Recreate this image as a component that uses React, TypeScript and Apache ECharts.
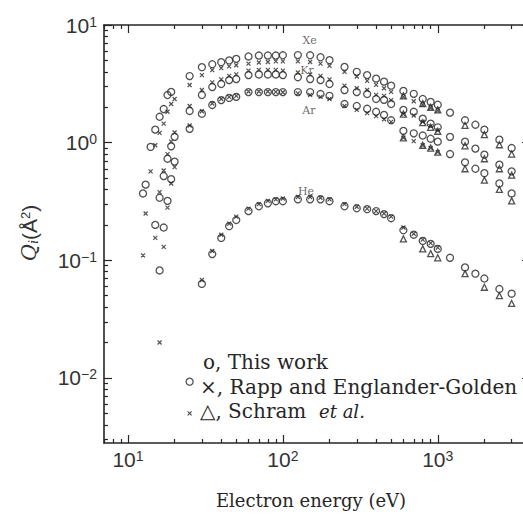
import React, { useEffect, useRef } from "react";
import * as echarts from "echarts";

// ---------- axes ----------
const X_MIN = 7;
const X_MAX = 4000;
const Y_MIN = 0.0028;
const Y_MAX = 10;
const X_MAJOR_EXP = [1, 2, 3];
const Y_MAJOR_EXP = [-2, -1, 0, 1];

// ---------- Xe ----------
const XE_THIS_E = [12.5, 13, 14, 15, 16, 17, 18, 19, 25, 30, 35, 40, 45, 50, 60, 70, 80, 90, 100, 125, 150, 175, 200, 250, 300, 350, 400, 450, 500, 600, 700, 800, 900, 1000, 1200, 1500, 1750, 2000, 2500, 3000];
const XE_THIS_Q = [0.37, 0.44, 0.92, 1.29, 1.66, 1.93, 2.54, 2.7, 3.68, 4.38, 4.64, 4.83, 5.0, 5.15, 5.4, 5.5, 5.5, 5.5, 5.53, 5.55, 5.53, 5.32, 5.02, 4.4, 4.0, 3.75, 3.5, 3.3, 3.05, 2.75, 2.6, 2.35, 2.22, 2.1, 1.8, 1.55, 1.42, 1.29, 1.06, 0.9];
const XE_RAPP_E = [12.5, 13, 14, 15, 16, 17, 18, 19, 20, 25, 30, 35, 40, 45, 50, 60, 70, 80, 90, 100, 125, 150, 175, 200, 250, 300, 350, 400, 450, 500, 600, 700, 800, 900, 1000];
const XE_RAPP_Q = [0.11, 0.25, 0.57, 0.95, 1.21, 1.45, 1.83, 2.13, 2.35, 3.09, 3.75, 4.13, 4.3, 4.45, 4.55, 4.7, 4.8, 4.85, 4.9, 4.9, 4.9, 4.85, 4.7, 4.5, 4.0, 3.65, 3.35, 3.1, 2.9, 2.7, 2.45, 2.25, 2.1, 1.98, 1.87];
const XE_SCHRAM_E = [600, 800, 900, 1000, 1500, 2000, 2500, 3000];
const XE_SCHRAM_Q = [2.5, 2.15, 2.0, 1.9, 1.4, 1.17, 0.96, 0.8];

// ---------- Kr ----------
const KR_THIS_E = [15, 16, 17, 18, 19, 20, 25, 30, 35, 40, 45, 50, 60, 70, 80, 90, 100, 125, 150, 175, 200, 250, 300, 350, 400, 450, 500, 600, 700, 800, 900, 1000, 1200, 1500, 1750, 2000, 2500, 3000];
const KR_THIS_Q = [0.2, 0.34, 0.52, 0.73, 0.93, 1.12, 1.86, 2.54, 2.97, 3.15, 3.4, 3.47, 3.75, 3.8, 3.8, 3.8, 3.75, 3.6, 3.47, 3.4, 3.15, 2.8, 2.69, 2.59, 2.35, 2.31, 2.13, 1.9, 1.83, 1.6, 1.45, 1.35, 1.12, 1.02, 0.89, 0.79, 0.65, 0.57];
const KR_RAPP_E = [15, 16, 17, 18, 19, 20, 25, 30, 35, 40, 45, 50, 60, 70, 80, 90, 100, 125, 150, 175, 200, 250, 300, 350, 400, 450, 500, 600, 700, 800, 900, 1000];
const KR_RAPP_Q = [0.155, 0.38, 0.58, 0.8, 1.02, 1.22, 2.05, 2.8, 3.25, 3.45, 3.7, 3.8, 4.1, 4.15, 4.15, 4.15, 4.1, 3.95, 3.8, 3.7, 3.45, 3.05, 2.9, 2.8, 2.55, 2.5, 2.3, 1.75, 1.7, 1.5, 1.38, 1.27];
const KR_SCHRAM_E = [600, 800, 900, 1000, 1500, 2000, 2500, 3000];
const KR_SCHRAM_Q = [1.75, 1.48, 1.35, 1.25, 0.94, 0.73, 0.6, 0.53];

// ---------- Ar ----------
const AR_THIS_E = [16, 17, 18, 19, 20, 25, 30, 35, 40, 45, 50, 60, 70, 80, 90, 100, 125, 150, 175, 200, 250, 300, 350, 400, 450, 500, 600, 700, 800, 900, 1000, 1200, 1500, 1750, 2000, 2500, 3000];
const AR_THIS_Q = [0.082, 0.19, 0.32, 0.49, 0.69, 1.31, 1.76, 2.09, 2.3, 2.4, 2.45, 2.69, 2.69, 2.69, 2.69, 2.69, 2.69, 2.69, 2.59, 2.5, 2.13, 2.05, 1.94, 1.83, 1.72, 1.55, 1.26, 1.2, 1.15, 1.08, 1.02, 0.8, 0.68, 0.6, 0.55, 0.45, 0.37];
const AR_RAPP_E = [16, 17, 18, 19, 20, 25, 30, 35, 40, 45, 50, 60, 70, 80, 90, 100, 125, 150, 175, 200, 250, 300, 350, 400, 450, 500, 600, 700, 800, 900, 1000];
const AR_RAPP_Q = [0.02, 0.13, 0.28, 0.45, 0.62, 1.4, 1.85, 2.15, 2.35, 2.45, 2.5, 2.72, 2.72, 2.72, 2.7, 2.68, 2.62, 2.55, 2.45, 2.35, 2.05, 1.9, 1.78, 1.68, 1.58, 1.5, 1.1, 1.03, 0.95, 0.9, 0.83];
const AR_SCHRAM_E = [600, 800, 900, 1000, 1500, 2000, 2500, 3000];
const AR_SCHRAM_Q = [1.1, 0.95, 0.9, 0.83, 0.6, 0.48, 0.4, 0.32];

// ---------- He ----------
const HE_THIS_E = [25, 30, 35, 40, 45, 50, 60, 70, 80, 90, 100, 125, 150, 175, 200, 250, 300, 350, 400, 450, 500, 600, 700, 800, 900, 1000, 1200, 1500, 1750, 2000, 2500, 3000];
const HE_THIS_Q = [0.0093, 0.063, 0.113, 0.155, 0.195, 0.22, 0.262, 0.288, 0.305, 0.318, 0.318, 0.33, 0.33, 0.33, 0.318, 0.288, 0.277, 0.272, 0.262, 0.247, 0.228, 0.18, 0.165, 0.146, 0.138, 0.125, 0.105, 0.087, 0.077, 0.07, 0.057, 0.052];
const HE_RAPP_E = [25, 30, 35, 40, 45, 50, 60, 70, 80, 90, 100, 125, 150, 175, 200, 250, 300, 350, 400, 450, 500, 600, 700, 800, 900, 1000];
const HE_RAPP_Q = [0.005, 0.068, 0.12, 0.165, 0.205, 0.235, 0.275, 0.3, 0.32, 0.33, 0.335, 0.345, 0.345, 0.34, 0.33, 0.3, 0.285, 0.275, 0.262, 0.25, 0.235, 0.19, 0.168, 0.15, 0.14, 0.128];
const HE_SCHRAM_E = [600, 800, 900, 1000, 1500, 2000, 2500, 3000];
const HE_SCHRAM_Q = [0.152, 0.125, 0.114, 0.105, 0.077, 0.059, 0.05, 0.043];

// ---------- gas labels ----------
const GAS_NAMES = ["Xe", "Kr", "Ar", "He"];
const GAS_LABEL_E = [149, 143, 147, 141];
const GAS_LABEL_Q = [7.4, 4.13, 1.86, 0.386];

const INK = "#262626";

function pairs(e: number[], q: number[]) {
  return e.map((v, i) => [v, q[i]]);
}

function minorLogs(min: number, max: number) {
  const out: number[] = [];
  for (let d = Math.floor(Math.log10(min)) - 1; d <= Math.ceil(Math.log10(max)); d++) {
    for (let k = 2; k <= 9; k++) {
      const v = k * Math.pow(10, d);
      if (v >= min && v <= max) out.push(Math.log10(v));
    }
  }
  return out;
}

export default function App() {
  const ref = useRef<HTMLDivElement | null>(null);

  useEffect(() => {
    document.body.style.margin = "0";
    if (!ref.current) return;
    const chart = echarts.init(ref.current, null, { renderer: "svg" });

    const lx0 = Math.log10(X_MIN);
    const lx1 = Math.log10(X_MAX);
    const ly0 = Math.log10(Y_MIN);
    const ly1 = Math.log10(Y_MAX);

    const rich = {
      b: { fontFamily: "Liberation Sans", fontSize: 21, color: "#333" },
      s: { fontFamily: "Liberation Sans", fontSize: 14, color: "#333", verticalAlign: "top" },
    };

    const tickAxis = (
      position: string,
      min: number,
      max: number,
      values: number[],
      length: number,
      line: boolean,
      labels: number[] | null,
      margin: number
    ) => ({
      type: "value",
      position,
      min,
      max,
      axisLine: { show: line, onZero: false, lineStyle: { color: INK, width: 1.6 } },
      axisTick: {
        show: true,
        inside: true,
        length,
        customValues: values,
        lineStyle: { color: INK, width: 1.2 },
      },
      axisLabel: labels
        ? {
            show: true,
            customValues: labels,
            margin,
            formatter: (v: number) => `{b|10}{s|${v < 0 ? "\u2212" + Math.abs(Math.round(v)) : Math.round(v)}}`,
            rich,
          }
        : { show: false },
      splitLine: { show: false },
    });

    const xMinor = minorLogs(X_MIN, X_MAX);
    const yMinor = minorLogs(Y_MIN, Y_MAX);

    const circle = { color: "rgba(255,255,255,0)", borderColor: INK, borderWidth: 1.3 };
    const cross = { color: "rgba(0,0,0,0)", borderColor: INK, borderWidth: 1.2 };

    const mk = (data: number[][], kind: string) => ({
      type: "scatter",
      xAxisIndex: 0,
      yAxisIndex: 0,
      data,
      symbol: kind === "this" ? "circle" : kind === "rapp" ? "path://M0 0L10 10M10 0L0 10" : "triangle",
      symbolSize: kind === "this" ? 7 : kind === "rapp" ? 4 : 6,
      itemStyle: kind === "rapp" ? cross : circle,
      silent: true,
    });

    const option = {
      animation: false,
      backgroundColor: "#ffffff",
      grid: { left: 104, top: 25, width: 427, height: 418, containLabel: false },
      xAxis: [
        {
          type: "log",
          logBase: 10,
          min: X_MIN,
          max: X_MAX,
          position: "bottom",
          axisLine: { show: false },
          axisTick: { show: false },
          axisLabel: { show: false },
          splitLine: { show: false },
        },
        tickAxis("bottom", lx0, lx1, X_MAJOR_EXP, 8, true, X_MAJOR_EXP, 6),
        tickAxis("bottom", lx0, lx1, xMinor, 4, false, null, 0),
        tickAxis("top", lx0, lx1, X_MAJOR_EXP, 8, true, null, 0),
        tickAxis("top", lx0, lx1, xMinor, 4, false, null, 0),
      ],
      yAxis: [
        {
          type: "log",
          logBase: 10,
          min: Y_MIN,
          max: Y_MAX,
          position: "left",
          axisLine: { show: false },
          axisTick: { show: false },
          axisLabel: { show: false },
          splitLine: { show: false },
        },
        tickAxis("left", ly0, ly1, Y_MAJOR_EXP, 8, true, Y_MAJOR_EXP, 7),
        tickAxis("left", ly0, ly1, yMinor, 4, false, null, 0),
        tickAxis("right", ly0, ly1, Y_MAJOR_EXP, 9, true, null, 0),
        tickAxis("right", ly0, ly1, yMinor, 4, false, null, 0),
      ],
      series: [
        mk(pairs(XE_THIS_E, XE_THIS_Q), "this"),
        mk(pairs(XE_RAPP_E, XE_RAPP_Q), "rapp"),
        mk(pairs(XE_SCHRAM_E, XE_SCHRAM_Q), "schram"),
        mk(pairs(KR_THIS_E, KR_THIS_Q), "this"),
        mk(pairs(KR_RAPP_E, KR_RAPP_Q), "rapp"),
        mk(pairs(KR_SCHRAM_E, KR_SCHRAM_Q), "schram"),
        mk(pairs(AR_THIS_E, AR_THIS_Q), "this"),
        mk(pairs(AR_RAPP_E, AR_RAPP_Q), "rapp"),
        mk(pairs(AR_SCHRAM_E, AR_SCHRAM_Q), "schram"),
        mk(pairs(HE_THIS_E, HE_THIS_Q), "this"),
        mk(pairs(HE_RAPP_E, HE_RAPP_Q), "rapp"),
        mk(pairs(HE_SCHRAM_E, HE_SCHRAM_Q), "schram"),
        {
          type: "scatter",
          xAxisIndex: 0,
          yAxisIndex: 0,
          symbolSize: 1,
          itemStyle: { color: "rgba(0,0,0,0)" },
          silent: true,
          data: GAS_NAMES.map((n, i) => ({ name: n, value: [GAS_LABEL_E[i], GAS_LABEL_Q[i]] })),
          label: {
            show: true,
            position: "inside",
            formatter: "{b}",
            fontFamily: "DejaVu Serif",
            fontSize: 11,
            color: "#444",
          },
        },
      ],
      graphic: [
        {
          type: "text",
          x: 29,
          y: 233,
          rotation: Math.PI / 2,
          style: {
            text: "{q|Q}{i|i}{n|(\u00C5}{p|2}{n|)}",
            align: "center",
            verticalAlign: "middle",
            rich: {
              q: { fontFamily: "DejaVu Serif", fontStyle: "italic", fontSize: 21, fill: "#333" },
              i: { fontFamily: "DejaVu Serif", fontStyle: "italic", fontSize: 13, fill: "#333", verticalAlign: "bottom" },
              n: { fontFamily: "Liberation Sans", fontSize: 21, fill: "#333" },
              p: { fontFamily: "Liberation Sans", fontSize: 13, fill: "#333", verticalAlign: "top" },
            },
          },
        },
        {
          type: "text",
          x: 311,
          y: 500,
          style: {
            text: "Electron energy (eV)",
            fontFamily: "DejaVu Serif",
            fontSize: 18,
            fill: INK,
            align: "center",
            verticalAlign: "middle",
          },
        },
        {
          type: "text",
          x: 203,
          y: 362,
          style: { text: "o, This work", fontFamily: "DejaVu Serif", fontSize: 20, fill: INK, align: "left", verticalAlign: "middle" },
        },
        {
          type: "text",
          x: 200,
          y: 387,
          style: { text: "\u00D7, Rapp and Englander-Golden", fontFamily: "DejaVu Serif", fontSize: 20, fill: INK, align: "left", verticalAlign: "middle" },
        },
        {
          type: "text",
          x: 200,
          y: 411,
          style: {
            text: "{n|\u25B3, Schram  }{i|et al.}",
            align: "left",
            verticalAlign: "middle",
            rich: {
              n: { fontFamily: "DejaVu Serif", fontSize: 20, fill: INK },
              i: { fontFamily: "DejaVu Serif", fontStyle: "italic", fontSize: 18, fill: INK },
            },
          },
        },
      ],
    };

    chart.setOption(option as any);
    return () => chart.dispose();
  }, []);

  return (
    <div
      style={{
        position: "fixed",
        left: 0,
        top: 0,
        width: 523,
        height: 515,
        overflow: "hidden",
        background: "#fff",
      }}
    >
      <div ref={ref} style={{ width: 560, height: 515 }} />
    </div>
  );
}
